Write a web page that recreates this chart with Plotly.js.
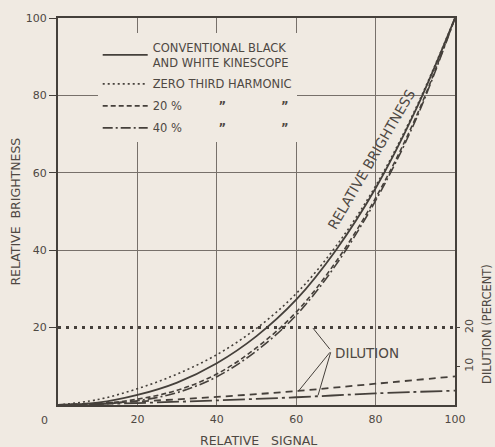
<!DOCTYPE html>
<html>
<head>
<meta charset="utf-8">
<script src="https://cdn.plot.ly/plotly-3.0.1.min.js"></script>
<style>
html,body{margin:0;padding:0;background:#f0eae2;}
#chart{width:495px;height:447px;}
</style>
</head>
<body>
<div id="chart"></div>
<script>
// ---- data ----
const signal = [0,10,20,30,40,50,60,70,80,90,100];
const brightConventional = [0,0.6,2.6,5.8,10.8,17.8,27.2,40,56,76,100];
const brightZeroThird    = [0,1.4,4.2,8.0,13.0,19.8,28.8,41,56.6,76.4,100];
const bright20           = [0,0.3,1.5,3.8,8.0,14.8,24.0,37.0,53.5,74.0,100];
const bright40           = [0,0.2,1.1,3.2,7.3,14.0,23.2,36.2,52.8,73.4,100];

const dilSignal    = [0,20,40,60,80,100];
const dilZeroThird = [20,20,20,20,20,20];
const dil20        = [0,0.9,2.1,3.6,5.5,7.4];
const dil40        = [0,0.5,1.2,2.0,3.0,3.7];

const sp = n => '\u00a0'.repeat(n);
const ditto = '<b>\u201d</b>';
const legendNames = [
  'CONVENTIONAL BLACK<br>AND WHITE KINESCOPE',
  'ZERO THIRD HARMONIC',
  '20 %' + sp(10) + ditto + sp(15) + ditto,
  '40 %' + sp(10) + ditto + sp(15) + ditto
];
const xTicks = [20,40,60,80,100];
const yTicks = [20,40,60,80,100];
const yGrid = [40,60,80];
const dilTicks = [10,20];

// ---- styles ----
const ink = '#45403b';
const txt = '#4e4842';
const grid = '#77706a';
const bg = '#f0eae2';
const font = 'DejaVu Sans, Liberation Sans, sans-serif';

const traces = [
  {x: signal, y: brightConventional, name: legendNames[0], legendgroup: 'a', mode: 'lines',
   line: {color: ink, width: 1.8, shape: 'spline'}},
  {x: signal, y: brightZeroThird, name: legendNames[1], legendgroup: 'b', mode: 'lines',
   line: {color: ink, width: 1.6, dash: '2px,3px', shape: 'spline'}},
  {x: signal, y: bright20, name: legendNames[2], legendgroup: 'c', mode: 'lines',
   line: {color: ink, width: 1.6, dash: '5px,3px', shape: 'spline'}},
  {x: signal, y: bright40, name: legendNames[3], legendgroup: 'd', mode: 'lines',
   line: {color: ink, width: 1.6, dash: '10px,3px,2px,3px', shape: 'spline'}},
  {x: dilSignal, y: dilZeroThird, yaxis: 'y2', mode: 'lines', showlegend: false,
   line: {color: ink, width: 3, dash: '3px,5px'}},
  {x: dilSignal, y: dil20, yaxis: 'y2', mode: 'lines', showlegend: false,
   line: {color: ink, width: 1.8, dash: '7px,5px', shape: 'spline'}},
  {x: dilSignal, y: dil40, yaxis: 'y2', mode: 'lines', showlegend: false,
   line: {color: ink, width: 1.8, dash: '22px,4px,3px,4px', shape: 'spline'}}
];

const ann = (o) => Object.assign({xanchor: 'center', yanchor: 'middle', showarrow: false}, o);

const layout = {
  width: 495, height: 447,
  margin: {l: 58, r: 40, t: 18, b: 42},
  paper_bgcolor: bg, plot_bgcolor: bg,
  font: {family: font, color: txt, size: 11},
  showlegend: true,
  legend: {x: 0.1, y: 0.96, xanchor: 'left', yanchor: 'top',
    bgcolor: bg, borderwidth: 0, font: {size: 11.5, color: txt, family: font},
    tracegroupgap: 3, itemwidth: 45},
  xaxis: {range: [0, 100], tickvals: xTicks, ticks: '', showline: true, mirror: true,
    linecolor: ink, linewidth: 2, showgrid: true, gridcolor: grid, gridwidth: 1,
    zeroline: false, tickfont: {size: 11, color: txt}, ticklabelstandoff: 3},
  yaxis: {range: [0, 100], tickvals: yTicks, ticks: 'outside', ticklen: 7, tickcolor: ink,
    showline: true, mirror: true, linecolor: ink, linewidth: 2, showgrid: false,
    zeroline: false, tickfont: {size: 11, color: txt},
    minor: {tickvals: yGrid, showgrid: true, gridcolor: grid, gridwidth: 1, ticks: ''}},
  yaxis2: {range: [0, 100], overlaying: 'y', side: 'right', tickvals: dilTicks,
    ticks: 'outside', ticklen: 4, tickcolor: ink, showgrid: false, showline: false,
    zeroline: false, tickangle: -90, tickfont: {size: 11, color: txt}},
  annotations: [
    ann({text: 'RELATIVE BRIGHTNESS', x: 79.0, y: 63.5, xref: 'x', yref: 'y',
     textangle: -59.8, font: {size: 13.8, color: txt}}),
    ann({text: 'DILUTION', x: 69.3, y: 13.4, xref: 'x', yref: 'y', xanchor: 'left',
     font: {size: 13.5, color: txt}}),
    {text: '', x: 64.2, y: 19.9, ax: 68.8, ay: 14.0, axref: 'x', ayref: 'y',
     xref: 'x', yref: 'y', showarrow: true, arrowhead: 0, arrowwidth: 1, arrowcolor: ink},
    {text: '', x: 60.5, y: 3.5, ax: 68.8, ay: 14.0, axref: 'x', ayref: 'y',
     xref: 'x', yref: 'y', showarrow: true, arrowhead: 0, arrowwidth: 1, arrowcolor: ink},
    {text: '', x: 65.5, y: 2.5, ax: 68.8, ay: 14.0, axref: 'x', ayref: 'y',
     xref: 'x', yref: 'y', showarrow: true, arrowhead: 0, arrowwidth: 1, arrowcolor: ink},
    ann({text: '0', x: -0.033, y: -0.039, xref: 'paper', yref: 'paper',
     font: {size: 11, color: txt}}),
    ann({text: 'RELATIVE' + sp(3) + 'SIGNAL', x: 0.504, y: -0.092, xref: 'paper', yref: 'paper',
     font: {size: 12.5, color: txt}}),
    ann({text: 'RELATIVE' + sp(2) + 'BRIGHTNESS', x: -0.108, y: 0.5, xref: 'paper', yref: 'paper',
     textangle: -90, font: {size: 12.5, color: txt}}),
    ann({text: 'DILUTION (PERCENT)', x: 1.081, y: 0.21, xref: 'paper', yref: 'paper',
     textangle: -90, font: {size: 11.5, color: txt}})
  ]
};

Plotly.newPlot('chart', traces, layout, {displayModeBar: false, staticPlot: true});
</script>
</body>
</html>
